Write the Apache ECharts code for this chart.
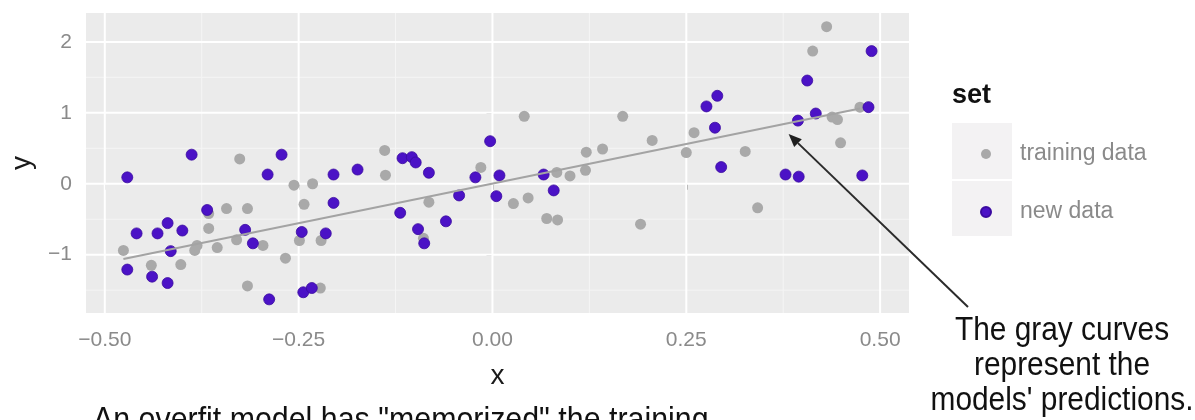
<!DOCTYPE html>
<html>
<head>
<meta charset="utf-8">
<script src="https://cdn.jsdelivr.net/npm/echarts@6/dist/echarts.min.js"></script>
<style>
  html, body { margin: 0; padding: 0; background: #ffffff; }
  #chart { width: 1195px; height: 420px; }
</style>
</head>
<body>
<div id="chart"></div>
<script>
// Training sample (gray dots)
const trainX = [-0.476, -0.440, -0.402, -0.384, -0.381, -0.366, -0.366, -0.355, -0.343, -0.330,
                -0.326, -0.316, -0.316, -0.296, -0.267, -0.256, -0.249, -0.243, -0.232, -0.222,
                -0.221, -0.139, -0.138, -0.089, -0.082, -0.015, 0.027, 0.041, 0.046, 0.070,
                0.083, 0.084, 0.100, 0.120, 0.121, 0.142, 0.168, 0.191, 0.206, 0.250,
                0.260, 0.326, 0.342, 0.413, 0.431, 0.438, 0.445, 0.449, 0.474];
const trainY = [-0.94, -1.15, -1.14, -0.94, -0.87, -0.63, -0.42, -0.90, -0.35, -0.79,
                0.35, -0.35, -1.44, -0.87, -1.05, -0.02, -0.80, -0.29, 0.00, -1.47,
                -0.80, 0.47, 0.12, -0.77, -0.26, 0.23, -0.28, 0.95, -0.20, -0.49,
                0.16, -0.51, 0.11, 0.19, 0.445, 0.49, 0.95, -0.57, 0.61, 0.44,
                0.72, 0.455, -0.34, 1.87, 2.215, 0.94, 0.905, 0.577, 1.08];

// Fresh sample (purple dots)
const newX = [-0.471, -0.471, -0.459, -0.439, -0.432, -0.419, -0.419, -0.415, -0.400, -0.388,
              -0.368, -0.319, -0.309, -0.290, -0.288, -0.272, -0.246, -0.244, -0.233, -0.215,
              -0.205, -0.205, -0.174, -0.119, -0.116, -0.104, -0.099, -0.096, -0.088, -0.082,
              -0.060, -0.043, -0.022, -0.003, 0.005, 0.009, 0.066, 0.079, 0.276, 0.287,
              0.290, 0.295, 0.378, 0.394, 0.395, 0.406, 0.417, 0.477, 0.485, 0.489];
const newY = [0.09, -1.21, -0.70, -1.31, -0.70, -0.555, -1.40, -0.95, -0.66, 0.41,
              -0.37, -0.65, -0.84, 0.13, -1.63, 0.41, -0.68, -1.53, -1.47, -0.70,
              0.13, -0.27, 0.20, -0.41, 0.36, 0.375, 0.30, -0.64, -0.84, 0.155,
              -0.53, -0.165, 0.09, 0.60, -0.175, 0.117, 0.13, -0.094, 1.09, 0.79,
              1.24, 0.235, 0.13, 0.89, 0.10, 1.455, 0.99, 0.117, 1.08, 1.87];

// Model prediction (straight fit)
const predX = [-0.476, 0.474];
const predY = [-1.06, 1.06];

// Axis breaks
const xTicks = [-0.5, -0.25, 0, 0.25, 0.5];
const yTicks = [-1, 0, 1, 2];
const xMinor = [-0.375, -0.125, 0.125, 0.375];
const yMinor = [-1.5, -0.5, 0.5, 1.5];

const seriesNames = ['training data', 'new data'];
const legendTitle = 'set';
const xTitle = 'x';
const yTitle = 'y';
const noteText = 'The gray curves\nrepresent the\nmodels\' predictions.';
const captionText = 'An overfit model has "memorized" the training';
const arrowTip = [0.382, 0.70];

const FONT = "'Liberation Sans', Arial, Helvetica, sans-serif";
const GRAY = '#a9a9a9';
const PURPLE = '#4b12c6';

// ggplot-like 5% padding of the data range
function padded(a, b) {
  const lo = Math.min(...a, ...b), hi = Math.max(...a, ...b);
  const pad = (hi - lo) * 0.05;
  return [lo - pad, hi + pad];
}
const [xMin, xMax] = padded(trainX, newX);
const [yMin, yMax] = padded(trainY, newY);

const zip = (xs, ys) => xs.map((x, i) => [x, ys[i]]);
const minus = s => s.replace('-', '\u2212');

// Panel grid lines, one custom series per direction and weight
function gridSeries(values, vertical, major) {
  return {
    type: 'custom', z: 1, silent: true, clip: false,
    data: values.map(v => vertical ? [v, 0] : [0, v]),
    renderItem(params, api) {
      const cs = params.coordSys;
      const p = api.coord([api.value(0), api.value(1)]);
      const shape = vertical
        ? { x1: p[0], y1: cs.y, x2: p[0], y2: cs.y + cs.height }
        : { x1: cs.x, y1: p[1], x2: cs.x + cs.width, y2: p[1] };
      return {
        type: 'line', shape,
        style: { stroke: major ? '#ffffff' : '#f5f5f5', lineWidth: major ? 2 : 1 }
      };
    }
  };
}

const chart = echarts.init(document.getElementById('chart'), null, { renderer: 'canvas' });

chart.setOption({
  animation: false,
  backgroundColor: '#ffffff',
  grid: {
    left: 85, top: 13, right: 286, bottom: 107,
    show: true, backgroundColor: '#ebebeb', borderWidth: 0
  },
  xAxis: {
    type: 'value', min: xMin, max: xMax,
    axisLine: { show: false },
    splitLine: { show: false },
    axisTick: { show: true, customValues: xTicks, length: 6, lineStyle: { color: '#888888', width: 1.5 } },
    axisLabel: {
      customValues: xTicks, margin: 17,
      color: '#8a8a8a', fontSize: 21, fontFamily: FONT,
      formatter: v => minus(v.toFixed(2))
    },
    name: xTitle, nameLocation: 'middle', nameGap: 49,
    nameTextStyle: { color: '#1a1a1a', fontSize: 28, fontFamily: FONT }
  },
  yAxis: {
    type: 'value', min: yMin, max: yMax,
    axisLine: { show: false },
    splitLine: { show: false },
    axisTick: { show: true, customValues: yTicks, length: 6, lineStyle: { color: '#888888', width: 1.5 } },
    axisLabel: {
      customValues: yTicks, margin: 14,
      color: '#8a8a8a', fontSize: 21, fontFamily: FONT,
      formatter: v => minus(String(v))
    },
    name: yTitle, nameLocation: 'middle', nameGap: 50, nameRotate: 90,
    nameTextStyle: { color: '#1a1a1a', fontSize: 28, fontFamily: FONT }
  },
  legend: {
    data: seriesNames,
    orient: 'vertical',
    left: 975, top: 136,
    itemWidth: 10, itemHeight: 10, itemGap: 32,
    icon: 'circle',
    selectedMode: false,
    z: 5,
    textStyle: { color: '#8a8a8a', fontSize: 23, lineHeight: 26, fontFamily: FONT, padding: [0, 0, 0, 24] }
  },
  graphic: [
    { id: 'key1', type: 'rect', z: 1, shape: { x: 952, y: 123, width: 60, height: 56 }, style: { fill: '#f3f2f3' } },
    { id: 'key2', type: 'rect', z: 1, shape: { x: 952, y: 181, width: 60, height: 55 }, style: { fill: '#f3f2f3' } },
    { id: 'legendTitle', type: 'text', x: 952, y: 96,
      style: { text: legendTitle, fill: '#111111', font: "bold 27px " + FONT, textAlign: 'left', textVerticalAlign: 'middle' } },
    { id: 'note', type: 'text', x: 1062, y: 366, scaleX: 0.905,
      style: { text: noteText, fill: '#111111', font: "33px " + FONT, lineHeight: 35, textAlign: 'center', textVerticalAlign: 'middle' } },
    { id: 'caption', type: 'text', x: 93, y: 421, scaleX: 0.92,
      style: { text: captionText, fill: '#111111', font: "33px " + FONT, textAlign: 'left', textVerticalAlign: 'middle' } }
  ],
  series: [
    gridSeries(xMinor, true, false),
    gridSeries(yMinor, false, false),
    gridSeries(xTicks, true, true),
    gridSeries(yTicks, false, true),
    {
      name: seriesNames[0], type: 'scatter', z: 3,
      symbolSize: 11, itemStyle: { color: GRAY, opacity: 1 },
      data: zip(trainX, trainY)
    },
    {
      name: seriesNames[1], type: 'scatter', z: 4,
      symbolSize: 11, itemStyle: { color: PURPLE, borderColor: '#3a0aa0', borderWidth: 0.8, opacity: 1 },
      data: zip(newX, newY)
    },
    {
      name: 'prediction', type: 'line', z: 5, silent: true,
      symbol: 'none', lineStyle: { color: '#a3a3a3', width: 2 },
      data: zip(predX, predY)
    }
  ]
});

// Arrow from the note to the fitted line
(function drawArrow() {
  const tip = chart.convertToPixel({ gridIndex: 0 }, arrowTip);
  const tail = [968, 307];
  const dx = tip[0] - tail[0], dy = tip[1] - tail[1];
  const len = Math.hypot(dx, dy);
  const ux = dx / len, uy = dy / len;
  const head = 13, half = 5.5;
  const bx = tip[0] - ux * head, by = tip[1] - uy * head;
  chart.setOption({
    graphic: [
      { id: 'arrowShaft', type: 'line', z: 10, shape: { x1: tail[0], y1: tail[1], x2: bx, y2: by },
        style: { stroke: '#2b2b2b', lineWidth: 2 } },
      { id: 'arrowHead', type: 'polygon', z: 10,
        shape: { points: [tip, [bx - uy * half, by + ux * half], [bx + uy * half, by - ux * half]] },
        style: { fill: '#1f1f1f' } }
    ]
  });
})();
</script>
</body>
</html>
